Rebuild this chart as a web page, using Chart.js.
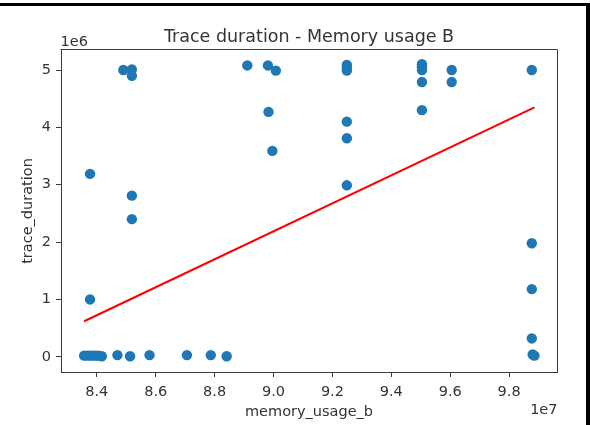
<!DOCTYPE html>
<html>
<head>
<meta charset="utf-8">
<script src="https://cdn.jsdelivr.net/npm/chart.js@4/dist/chart.umd.min.js"></script>
<style>
  html, body { margin: 0; padding: 0; background: #ffffff; }
  canvas { display: block; }
</style>
</head>
<body>
<canvas id="c" width="590" height="425"></canvas>
<script>
// ---- data (memory_usage_b vs trace_duration) ----
const memoryUsageB = [
  8.357e7, 8.368e7, 8.378e7, 8.388e7, 8.397e7, 8.406e7, 8.417e7,
  8.470e7, 8.513e7, 8.579e7, 8.706e7, 8.787e7, 8.841e7,
  8.377e7, 8.377e7,
  8.490e7, 8.519e7, 8.519e7, 8.519e7, 8.519e7,
  8.911e7, 8.981e7, 9.008e7, 8.983e7, 8.996e7,
  9.249e7, 9.249e7, 9.249e7, 9.249e7, 9.249e7, 9.249e7,
  9.504e7, 9.504e7, 9.504e7, 9.504e7, 9.504e7,
  9.605e7, 9.605e7,
  9.877e7, 9.877e7, 9.877e7, 9.877e7, 9.886e7, 9.880e7
];
const traceDuration = [
  0.02e6, 0.02e6, 0.02e6, 0.02e6, 0.02e6, 0.02e6, 0.01e6,
  0.03e6, 0.01e6, 0.03e6, 0.03e6, 0.03e6, 0.01e6,
  1.00e6, 3.19e6,
  5.00e6, 5.01e6, 4.90e6, 2.81e6, 2.40e6,
  5.08e6, 5.08e6, 4.99e6, 4.27e6, 3.59e6,
  5.09e6, 5.04e6, 4.99e6, 4.10e6, 3.81e6, 2.99e6,
  5.10e6, 5.05e6, 5.00e6, 4.79e6, 4.30e6,
  5.00e6, 4.79e6,
  5.00e6, 1.98e6, 1.18e6, 0.32e6, 0.02e6, 0.04e6
];
// fitted regression line end points
const fitX = [8.357e7, 9.886e7];
const fitY = [0.62e6, 4.35e6];

// axes
const xTickValues = [8.4e7, 8.6e7, 8.8e7, 9.0e7, 9.2e7, 9.4e7, 9.6e7, 9.8e7];
const xTickLabels = ['8.4', '8.6', '8.8', '9.0', '9.2', '9.4', '9.6', '9.8'];
const yTickValues = [0, 1e6, 2e6, 3e6, 4e6, 5e6];
const yTickLabels = ['0', '1', '2', '3', '4', '5'];
const xRange = [8.2784e7, 9.9626e7];
const yRange = [-0.265e6, 5.349e6];

const titleText = 'Trace duration - Memory usage B';
const xLabel = 'memory_usage_b';
const yLabel = 'trace_duration';
const xOffsetText = '1e7';
const yOffsetText = '1e6';

const FONT = "'DejaVu Sans', sans-serif";
const TEXT = '#333333';
const AXIS = '#3a3a3a';

const scatterPts = memoryUsageB.map((x, i) => ({ x: x, y: traceDuration[i] }));
const fitPts = fitX.map((x, i) => ({ x: x, y: fitY[i] }));

const decor = {
  id: 'decor',
  afterDraw(chart) {
    const ctx = chart.ctx;
    const a = chart.chartArea;
    ctx.save();
    // top & right spines
    ctx.strokeStyle = AXIS;
    ctx.lineWidth = 1;
    ctx.beginPath();
    ctx.moveTo(Math.round(a.left) - 0.5, Math.round(a.top) - 0.5);
    ctx.lineTo(Math.round(a.right) + 0.5, Math.round(a.top) - 0.5);
    ctx.lineTo(Math.round(a.right) + 0.5, Math.round(a.bottom) + 0.5);
    ctx.stroke();
    // title
    ctx.fillStyle = TEXT;
    ctx.font = '17.5px ' + FONT;
    ctx.textAlign = 'center';
    ctx.textBaseline = 'alphabetic';
    ctx.fillText(titleText, (a.left + a.right) / 2, 41.5);
    // offset texts
    ctx.font = '14.5px ' + FONT;
    ctx.textAlign = 'left';
    ctx.fillText(yOffsetText, a.left - 0.5, 45.5);
    ctx.textAlign = 'right';
    ctx.fillText(xOffsetText, a.right + 0.5, 414);
    // axis labels
    ctx.textAlign = 'center';
    ctx.fillText(xLabel, (a.left + a.right) / 2, 416);
    ctx.save();
    ctx.translate(31.5, (a.top + a.bottom) / 2);
    ctx.rotate(-Math.PI / 2);
    ctx.fillText(yLabel, 0, 0);
    ctx.restore();
    // outer black frame pieces
    ctx.fillStyle = '#000000';
    ctx.fillRect(0, 3, 590, 3);
    ctx.fillRect(586, 3, 4, 422);
    ctx.restore();
  }
};

new Chart(document.getElementById('c'), {
  type: 'scatter',
  data: {
    datasets: [
      {
        data: fitPts,
        showLine: true,
        borderColor: '#ff0000',
        borderWidth: 2,
        pointRadius: 0,
        order: 0
      },
      {
        data: scatterPts,
        backgroundColor: '#1f77b4',
        borderWidth: 0,
        pointRadius: 5.2,
        order: 1
      }
    ]
  },
  options: {
    responsive: false,
    animation: false,
    events: [],
    layout: { padding: { top: 50, right: 33, left: 0, bottom: 0 } },
    plugins: { legend: { display: false }, tooltip: { enabled: false }, title: { display: false } },
    scales: {
      x: {
        type: 'linear',
        position: 'bottom',
        min: xRange[0],
        max: xRange[1],
        afterBuildTicks: s => { s.ticks = xTickValues.map(v => ({ value: v })); },
        afterFit: s => { s.height = 53; },
        grid: { display: true, drawOnChartArea: false, drawTicks: true, tickLength: 5, color: AXIS, lineWidth: 1 },
        border: { display: true, color: AXIS, width: 1 },
        ticks: {
          autoSkip: false, maxRotation: 0, minRotation: 0, padding: 7,
          color: TEXT, font: { family: FONT, size: 14.5 },
          callback: v => xTickLabels[xTickValues.indexOf(v)]
        }
      },
      y: {
        type: 'linear',
        position: 'left',
        min: yRange[0],
        max: yRange[1],
        afterBuildTicks: s => { s.ticks = yTickValues.map(v => ({ value: v })); },
        afterFit: s => { s.width = 61; },
        grid: { display: true, drawOnChartArea: false, drawTicks: true, tickLength: 5, color: AXIS, lineWidth: 1 },
        border: { display: true, color: AXIS, width: 1 },
        ticks: {
          autoSkip: false, padding: 5,
          color: TEXT, font: { family: FONT, size: 14.5 },
          callback: v => yTickLabels[yTickValues.indexOf(v)]
        }
      }
    }
  },
  plugins: [decor]
});
</script>
</body>
</html>
